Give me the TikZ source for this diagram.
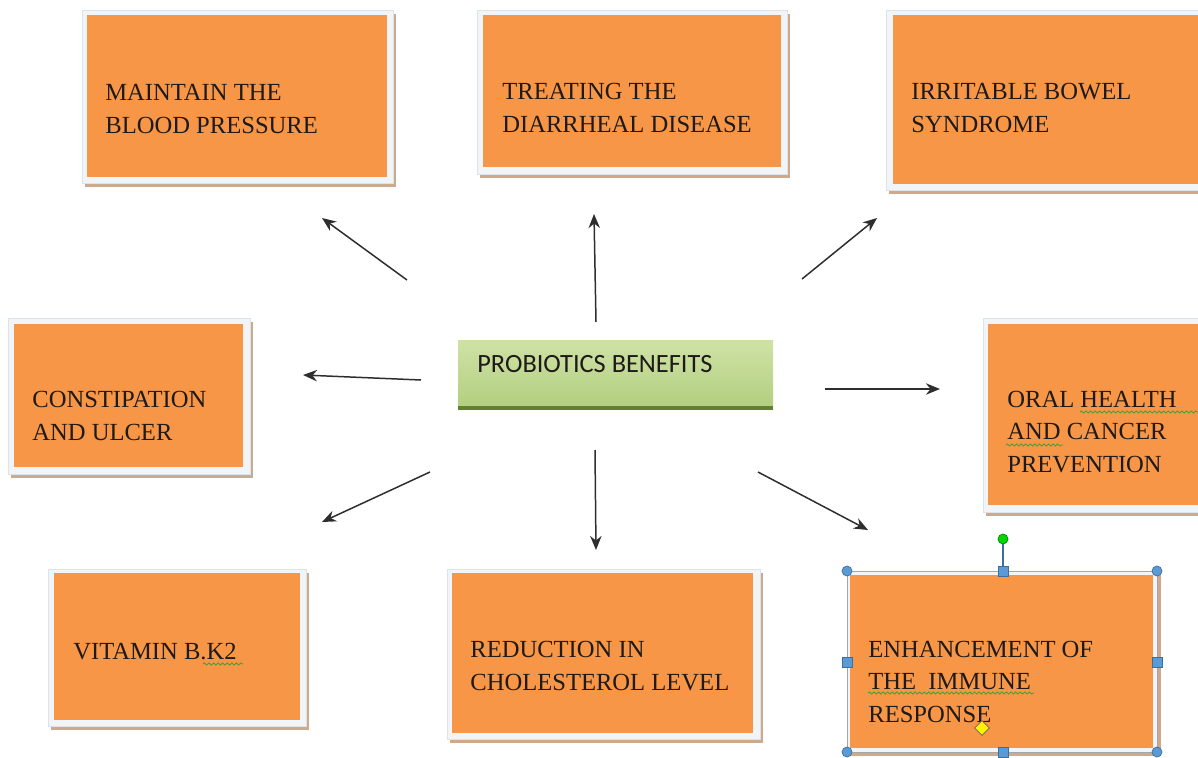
\documentclass[tikz,border=0pt]{standalone}
\usepackage{fontspec}
\setmainfont{Liberation Serif}
\newfontfamily\calfont{Carlito}
\usetikzlibrary{arrows.meta, fit, shapes.geometric, decorations.pathmorphing}

\definecolor{boxorange}{HTML}{F79646}
\definecolor{framefill}{HTML}{F1F5F8}
\definecolor{frameline}{HTML}{DCE3EA}
\definecolor{shadowbrown}{HTML}{CDAA8C}
\definecolor{textcol}{HTML}{1E1A18}
\definecolor{arrcol}{HTML}{2E2E2E}
\definecolor{greentop}{HTML}{CFE2A6}
\definecolor{greenmid}{HTML}{9FC060}
\definecolor{greenbot}{HTML}{B3CF80}
\definecolor{greenedge}{HTML}{62802F}
\definecolor{spellgreen}{HTML}{3FA33A}
\definecolor{handleblue}{HTML}{5B9BD5}
\definecolor{handleedge}{HTML}{3E6E9E}

\begin{document}
\begin{tikzpicture}[x=0.02cm, y=-0.02cm, >={Stealth[length=8pt, width=6.5pt]},
  shadowbox/.style={fill=shadowbrown},
  framebox/.style={fill=framefill, draw=frameline, line width=0.5pt},
  obox/.style={fill=boxorange, inner sep=0pt},
  otext/.style={anchor=base west, align=left, inner sep=0pt, text=textcol,
    font=\fontsize{14}{18.4}\selectfont},
  pbbox/.style={inner sep=0pt, top color=greentop, middle color=greenmid, bottom color=greenbot},
  pbtext/.style={anchor=base west, inner sep=0pt, text=textcol, font=\calfont\fontsize{15}{18}\selectfont},
  arr/.style={->, draw=arrcol, line width=0.85pt},
  wavy/.style={draw=spellgreen, line width=0.5pt, decorate,
    decoration={snake, amplitude=0.6pt, segment length=2.6pt}},
  hcircle/.style={circle, fill=handleblue, draw=handleedge, line width=0.4pt, inner sep=0pt, minimum size=0.2cm},
  hsquare/.style={rectangle, fill=handleblue, draw=handleedge, line width=0.4pt, inner sep=0pt, minimum size=0.2cm},
  hrotate/.style={circle, fill=green!85!black, draw=green!50!black, line width=0.4pt, inner sep=0pt, minimum size=0.2cm},
  hdiamond/.style={diamond, fill=yellow, draw=black!60, line width=0.4pt, inner sep=0pt, minimum size=0.3cm}]
  \useasboundingbox (0,0) rectangle (1198,758);

  % maintain the blood pressure
  \fill[shadowbox] (85,14) rectangle (396,187);
  \draw[framebox] (82,10) rectangle (393,183);
  \node[obox, fit={(87,15) (387,177)}] (mbp) {};
  \node[otext] (mbptxt) at (105,133) {MAINTAIN THE\\BLOOD PRESSURE};

  % treating the diarrheal disease
  \fill[shadowbox] (480,14) rectangle (790,178);
  \draw[framebox] (477,10) rectangle (787,174);
  \node[obox, fit={(483,15) (781,167)}] (tdd) {};
  \node[otext] (tddtxt) at (502,132) {TREATING THE\\DIARRHEAL DISEASE};

  % irritable bowel syndrome
  \fill[shadowbox] (889,14) rectangle (1205,194);
  \draw[framebox] (886,10) rectangle (1202,190);
  \node[obox, fit={(893,15) (1202,184)}] (ibs) {};
  \node[otext] (ibstxt) at (911,132) {IRRITABLE BOWEL\\SYNDROME};

  % constipation and ulcer
  \fill[shadowbox] (11,322) rectangle (253,478);
  \draw[framebox] (8,318) rectangle (250,474);
  \node[obox, fit={(14,324) (243,467)}] (cau) {};
  \node[otext] (cautxt) at (32,440) {CONSTIPATION\\AND ULCER};

  % oral health and cancer prevention
  \fill[shadowbox] (986,322) rectangle (1205,516);
  \draw[framebox] (983,318) rectangle (1202,512);
  \node[obox, fit={(988,324) (1202,505)}] (ohc) {};
  \node[otext] (ohctxt) at (1007,472) {ORAL HEALTH\\AND CANCER\\PREVENTION};
  \draw[wavy] (1080,412) -- (1198,412);
  \draw[wavy] (1006,445) -- (1063,445);

  % vitamin b.k2
  \fill[shadowbox] (51,573) rectangle (309,730);
  \draw[framebox] (48,569) rectangle (306,726);
  \node[obox, fit={(54,573) (300,720)}] (vit) {};
  \node[otext] (vittxt) at (73,659) {VITAMIN B.K2};
  \draw[wavy] (203,664) -- (243,664);

  % reduction in cholesterol level
  \fill[shadowbox] (450,573) rectangle (763,743);
  \draw[framebox] (447,569) rectangle (760,739);
  \node[obox, fit={(452,573) (753,733)}] (rcl) {};
  \node[otext] (rcltxt) at (470,690) {REDUCTION IN\\CHOLESTEROL LEVEL};

  % enhancement of the immune response (selected)
  \fill[shadowbox] (848,572) rectangle (1161,756);
  \draw[framebox, draw=black!35] (847,571) rectangle (1157,752);
  \node[obox, fit={(850,575) (1153,748)}] (eir) {};
  \node[otext] (eirtxt) at (868,722) {ENHANCEMENT OF\\THE\ \ IMMUNE\\RESPONSE};
  \draw[wavy] (868,693) -- (1034,693);

  % center
  \node[pbbox, fit={(458,340) (773,406)}] (pb) {};
  \fill[greenedge] (pb.south west) rectangle ([yshift=-0.07cm]pb.south east);
  \node[pbtext] (pbtxt) at (477,372) {PROBIOTICS BENEFITS};

  % arrows
  \foreach \n/\ax/\ay/\bx/\by in {1/407/280/322/218, 2/596/322/594/214,
      3/802/279/877/218, 4/421/380/303/375, 5/825/389/940/389,
      6/430/472/322/522, 7/595/450/596/550, 8/758/472/868/530}{
    \coordinate (t\n) at (\ax,\ay);
    \coordinate (h\n) at (\bx,\by);
    \draw[arr] (t\n) -- (h\n);
  }

  % selection handles
  \node[hrotate] (hrot) at (1003,539) {};
  \node[hsquare] (hn) at (1003,571) {};
  \draw[handleedge, line width=0.8pt] (hrot) -- (hn);
  \node[hsquare] (hs) at (1003,752) {};
  \node[hsquare] (hw) at (847,662) {};
  \node[hsquare] (he) at (1157,662) {};
  \node[hcircle] (hnw) at (847,571) {};
  \node[hcircle] (hne) at (1157,571) {};
  \node[hcircle] (hsw) at (847,752) {};
  \node[hcircle] (hse) at (1157,752) {};
  \node[hdiamond] (hadj) at (982,728) {};
\end{tikzpicture}
\end{document}
